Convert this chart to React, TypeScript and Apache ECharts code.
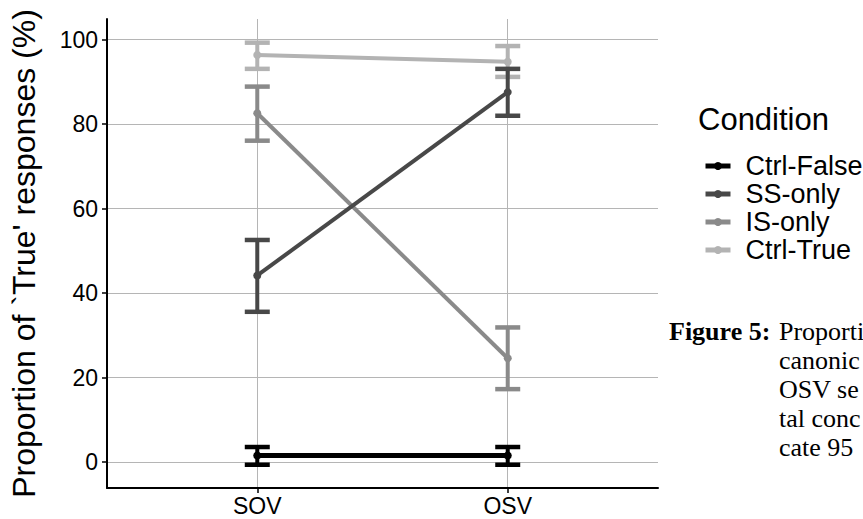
import React, { useEffect, useRef } from "react";
import * as echarts from "echarts";

const categories = ["SOV", "OSV"];
const conditions = ["Ctrl-False", "SS-only", "IS-only", "Ctrl-True"];
const colors = ["#000000", "#484848", "#8a8a8a", "#b3b3b3"];
const lineWidths = [5, 4, 4, 4];

const ctrlFalseMean = [1.6, 1.6];
const ctrlFalseLow = [-0.6, -0.6];
const ctrlFalseHigh = [3.6, 3.6];

const ssOnlyMean = [44.2, 87.6];
const ssOnlyLow = [35.6, 82.0];
const ssOnlyHigh = [52.6, 93.1];

const isOnlyMean = [82.6, 24.6];
const isOnlyLow = [76.1, 17.3];
const isOnlyHigh = [88.9, 31.9];

const ctrlTrueMean = [96.4, 94.8];
const ctrlTrueLow = [93.1, 91.2];
const ctrlTrueHigh = [99.3, 98.5];

const yTicks = [0, 20, 40, 60, 80, 100];

// visible fragments of the (cropped) figure caption
const captionLabel = "Figure 5:";
const captionLines = ["Proporti", "canonic", "OSV se", "tal conc", "cate 95"];

const means = [ctrlFalseMean, ssOnlyMean, isOnlyMean, ctrlTrueMean];
const lows = [ctrlFalseLow, ssOnlyLow, isOnlyLow, ctrlTrueLow];
const highs = [ctrlFalseHigh, ssOnlyHigh, isOnlyHigh, ctrlTrueHigh];

const FONT = "Liberation Sans, Arial, sans-serif";
const SERIF = "Liberation Serif, Times New Roman, serif";

export default function App() {
  const ref = useRef<HTMLDivElement>(null);
  useEffect(() => {
    if (!ref.current) return;
    const chart = echarts.init(ref.current, null, { renderer: "svg" });
    const order = [3, 2, 1, 0];
    const lineSeries = order.map((i) => ({
      type: "line",
      name: conditions[i],
      data: categories.map((_, j) => [j, means[i][j]]),
      symbol: "circle",
      symbolSize: 8,
      showSymbol: true,
      lineStyle: { color: colors[i], width: lineWidths[i] },
      itemStyle: { color: colors[i] },
      z: 2,
    }));
    const errSeries = order.map((i) => ({
      type: "custom",
      name: conditions[i] + " CI",
      data: categories.map((_, j) => [j, lows[i][j], highs[i][j]]),
      z: 3,
      renderItem: (params: any, api: any) => {
        const x = api.value(0);
        const lo = api.coord([x, api.value(1)]);
        const hi = api.coord([x, api.value(2)]);
        const hw = 12.5;
        const st = { stroke: colors[i], lineWidth: 4.5 };
        return {
          type: "group",
          children: [
            { type: "line", shape: { x1: lo[0], y1: lo[1], x2: hi[0], y2: hi[1] }, style: { stroke: colors[i], lineWidth: 4 } },
            { type: "line", shape: { x1: hi[0] - hw, y1: hi[1], x2: hi[0] + hw, y2: hi[1] }, style: st },
            { type: "line", shape: { x1: lo[0] - hw, y1: lo[1], x2: lo[0] + hw, y2: lo[1] }, style: st },
          ],
        };
      },
    }));

    const captionGraphics: any[] = [
      {
        type: "text",
        x: 669,
        y: 331,
        style: { text: captionLabel, font: "bold 26px " + SERIF, fill: "#000", verticalAlign: "middle" },
      },
      ...captionLines.map((t, k) => ({
        type: "text",
        x: 779,
        y: 331 + k * 29,
        style: { text: t, font: "26px " + SERIF, fill: "#000", verticalAlign: "middle" },
      })),
    ];

    chart.setOption({
      animation: false,
      textStyle: { fontFamily: FONT },
      grid: { left: 106, top: 19, width: 552, height: 469, containLabel: false },
      xAxis: {
        type: "value",
        min: -0.6,
        max: 1.6,
        axisLine: { show: true, onZero: false, lineStyle: { color: "#000", width: 2 } },
        axisTick: { show: true, customValues: [0, 1], length: 5, lineStyle: { color: "#000", width: 1.5 } },
        axisLabel: {
          customValues: [0, 1],
          formatter: (v: number) => categories[Math.round(v)] ?? "",
          color: "#000",
          fontSize: 23,
          fontFamily: FONT,
          margin: 6,
        },
        splitLine: { show: true, lineStyle: { color: "#b5b5b5", width: 1 } },
      },
      yAxis: {
        type: "value",
        min: -6.1,
        max: 104.9,
        name: "Proportion of `True' responses (%)",
        nameLocation: "middle",
        nameRotate: 90,
        nameGap: 67,
        nameTextStyle: { fontSize: 32, color: "#000", fontFamily: FONT },
        axisLine: { show: true, onZero: false, lineStyle: { color: "#000", width: 2 } },
        axisTick: { show: true, customValues: yTicks, length: 5, lineStyle: { color: "#000", width: 1.5 } },
        axisLabel: { customValues: yTicks, color: "#000", fontSize: 23, fontFamily: FONT, margin: 9 },
        splitLine: { show: true, lineStyle: { color: "#b5b5b5", width: 1 } },
      },
      legend: {
        data: conditions,
        orient: "vertical",
        left: 698,
        top: 147,
        itemWidth: 25,
        itemHeight: 10,
        itemGap: 0,
        lineStyle: { width: 5 },
        textStyle: { fontSize: 27, color: "#000", fontFamily: FONT, lineHeight: 28, padding: [0, 0, 0, 10] },
        selectedMode: false,
      },
      graphic: [
        {
          type: "text",
          left: 698,
          top: 104,
          style: { text: "Condition", font: "31px " + FONT, fill: "#000" },
        },
        ...captionGraphics,
      ],
      series: [...lineSeries, ...errSeries],
    });
    return () => chart.dispose();
  }, []);
  return (
    <div
      ref={ref}
      style={{ position: "absolute", left: 0, top: 0, width: 863, height: 519, background: "#fff" }}
    />
  );
}
